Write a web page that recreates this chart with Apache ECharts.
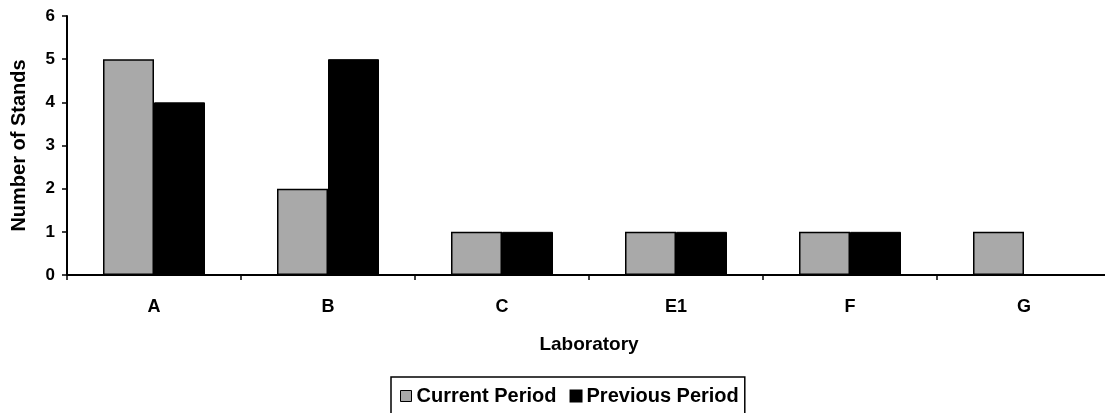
<!DOCTYPE html>
<html><head><meta charset="utf-8">
<script src="https://cdn.jsdelivr.net/npm/echarts@6/dist/echarts.min.js"></script>
<style>html,body{margin:0;padding:0;background:#fff}#c{width:1105px;height:413px}</style>
</head><body><div id="c"></div>
<script>
const categories = ['A', 'B', 'C', 'E1', 'F', 'G'];
const currentPeriod = [5, 2, 1, 1, 1, 1];
const previousPeriod = [4, 5, 1, 1, 1, 0];
const yTicks = [0, 1, 2, 3, 4, 5, 6];

const chart = echarts.init(document.getElementById('c'));
const font = 'Arial, "Liberation Sans", sans-serif';
chart.setOption({
  animation: false,
  backgroundColor: '#fff',
  grid: { left: 67, top: 16, width: 1044, height: 259, containLabel: false, outerBoundsMode: 'none' },
  legend: {
    top: 377, left: 391,
    icon: 'rect',
    itemWidth: 11, itemHeight: 11, itemGap: 13,
    padding: [9, 6, 10, 9],
    borderColor: '#000', borderWidth: 1.5,
    textStyle: { fontFamily: font, fontWeight: 'bold', fontSize: 20, color: '#000' },
    data: [
      { name: 'Current Period', itemStyle: { color: '#a9a9a9', borderColor: '#000', borderWidth: 1 } },
      { name: 'Previous Period', itemStyle: { color: '#000' } }
    ]
  },
  xAxis: {
    type: 'category', data: categories,
    name: 'Laboratory', nameLocation: 'middle', nameGap: 60,
    nameTextStyle: { fontFamily: font, fontWeight: 'bold', fontSize: 19, color: '#000' },
    axisLine: { lineStyle: { color: '#000', width: 2 } },
    axisTick: { show: true, length: 5, lineStyle: { color: '#000', width: 1.5 } },
    axisLabel: { fontFamily: font, fontWeight: 'bold', fontSize: 18, color: '#000', margin: 23 }
  },
  yAxis: {
    type: 'value', min: 0, max: 6, interval: 1,
    name: 'Number of Stands', nameLocation: 'middle', nameGap: 38, nameRotate: 90,
    nameTextStyle: { fontFamily: font, fontWeight: 'bold', fontSize: 20, color: '#000' },
    axisLine: { show: true, lineStyle: { color: '#000', width: 2 } },
    axisTick: { show: true, length: 5, lineStyle: { color: '#000', width: 1.5 } },
    splitLine: { show: false },
    axisLabel: { fontFamily: font, fontWeight: 'bold', fontSize: 17, color: '#000', margin: 12,
      formatter: v => yTicks.includes(v) ? String(v) : '' }
  },
  series: [
    { name: 'Current Period', type: 'bar', data: currentPeriod, barWidth: 51, barGap: '0%',
      itemStyle: { color: '#a9a9a9', borderColor: '#000', borderWidth: 1.5 } },
    { name: 'Previous Period', type: 'bar', data: previousPeriod, barWidth: 51,
      itemStyle: { color: '#000', borderColor: '#000', borderWidth: 1 } }
  ]
});
</script></body></html>
